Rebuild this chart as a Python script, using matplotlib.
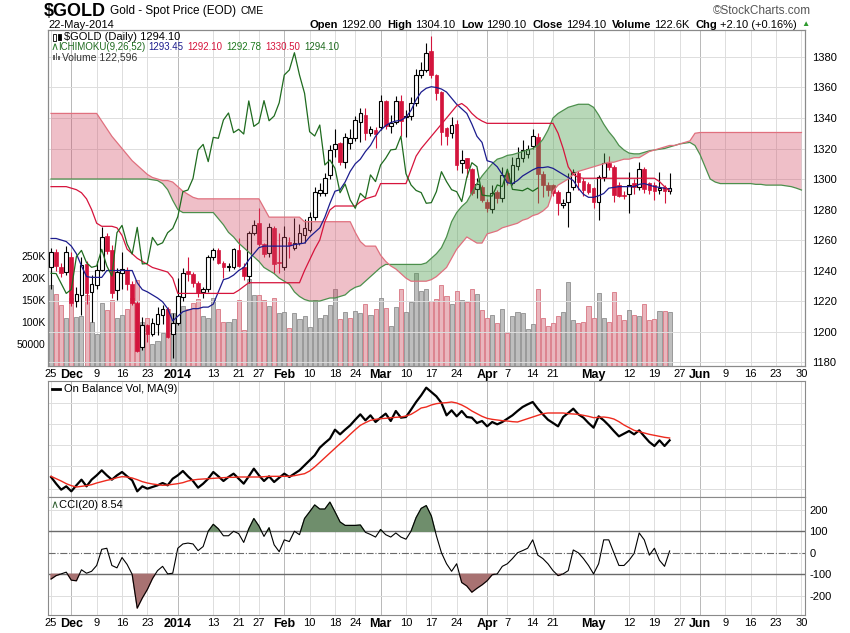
import matplotlib
matplotlib.use('Agg')
import matplotlib.pyplot as plt
from matplotlib import font_manager
from matplotlib.lines import Line2D
from matplotlib.patches import Rectangle
import numpy as np
import pandas as pd

plt.rcParams['font.family'] = ['Liberation Sans', 'DejaVu Sans']
plt.rcParams['font.size'] = 8
plt.rcParams['axes.unicode_minus'] = False

try:
    font_manager.findfont('Liberation Sans Narrow', fallback_to_default=False)
    NARROW = ['Liberation Sans Narrow', 'Liberation Sans', 'DejaVu Sans']
except ValueError:
    NARROW = ['Liberation Sans', 'DejaVu Sans']

W, H = 850, 633

# ---- dates -----------------------------------------------------------
holidays = ['2013-11-28', '2013-12-25', '2014-01-01', '2014-01-20',
            '2014-02-17', '2014-04-18', '2014-05-26']
sessions = pd.bdate_range('2013-11-25', '2014-06-30')
sessions = sessions[~sessions.isin(pd.to_datetime(holidays))]

tick_dates = ['2013-11-25', '2013-12-02', '2013-12-09', '2013-12-16', '2013-12-23',
              '2014-01-02', '2014-01-13', '2014-01-21', '2014-01-27', '2014-02-03',
              '2014-02-10', '2014-02-18', '2014-02-24', '2014-03-03', '2014-03-10',
              '2014-03-17', '2014-03-24', '2014-04-01', '2014-04-07', '2014-04-14',
              '2014-04-21', '2014-05-01', '2014-05-12', '2014-05-19', '2014-05-27',
              '2014-06-02', '2014-06-09', '2014-06-16', '2014-06-23', '2014-06-30']
tick_labels = ['25', 'Dec', '9', '16', '23', '2014', '13', '21', '27', 'Feb',
               '10', '18', '24', 'Mar', '10', '17', '24', 'Apr', '7', '14',
               '21', 'May', '12', '19', '27', 'Jun', '9', '16', '23', '30']
month_labels = ['Dec', '2014', 'Feb', 'Mar', 'Apr', 'May', 'Jun']

# ---- daily prices (25-Nov-2013 .. 22-May-2014) ----------------------
open_ = [1242, 1252, 1242, 1239, 1249, 1220, 1224, 1244, 1226, 1230.5,
         1240.3, 1262.5, 1253.4, 1227.2, 1238.6, 1240.3, 1231.1, 1219, 1190, 1204.1,
         1198.4, 1204.9, 1210.8, 1214.6, 1198.4, 1205.4, 1222.8, 1240, 1237.4, 1231.5,
         1225.6, 1227.6, 1249, 1253.4, 1245.1, 1242, 1242.5, 1253.4, 1242.1, 1236.4,
         1264.8, 1270.9, 1257.4, 1251.3, 1267.6, 1245.4, 1242.5, 1258.9, 1254.5, 1257.8,
         1263, 1266.6, 1274.9, 1291, 1291, 1302.6, 1319.5, 1323.4, 1311.4, 1323.4,
         1326.7, 1337.6, 1342, 1330.2, 1332.1, 1334.3, 1351.4, 1334.7, 1337.6, 1351.4,
         1340.4, 1341.3, 1350, 1368.2, 1371.5, 1384.1, 1368.2, 1357.3, 1333.2, 1329.9,
         1336, 1310.3, 1313.5, 1306.3, 1293.4, 1295, 1285.2, 1280.1, 1291.7, 1287.4,
         1304.2, 1297.6, 1308.6, 1313.6, 1316.4, 1321.7, 1327.6, 1303.5, 1296.1, 1296.1,
         1291.7, 1283, 1285.1, 1295, 1303.7, 1299, 1296.5, 1293.9, 1285.2, 1301.5,
         1310.7, 1308.1, 1296.1, 1289.5, 1290.2, 1297.2, 1295, 1306.4, 1297.2, 1296,
         1293, 1295, 1292]
high = [1255, 1254, 1245, 1256, 1252, 1229, 1249, 1246, 1237, 1246,
        1268.3, 1264.7, 1256.6, 1241.4, 1252, 1242.4, 1233, 1220, 1209.5, 1204.7,
        1208.9, 1216.3, 1217.6, 1216.3, 1212, 1234.9, 1241.4, 1248.6, 1239, 1233,
        1229.4, 1250, 1254.5, 1254.5, 1246, 1245, 1254.5, 1261, 1244.7, 1266,
        1273, 1280.8, 1258, 1270.9, 1269.2, 1264.4, 1269.2, 1262.2, 1274.2, 1270.5,
        1273.5, 1278.6, 1295, 1297.2, 1303.7, 1322.3, 1332.6, 1324, 1330, 1332.6,
        1341.3, 1346.3, 1346.3, 1334.5, 1334.3, 1355, 1352, 1342, 1354.4, 1355,
        1345.2, 1354, 1371.9, 1376.9, 1389, 1393.8, 1369, 1358, 1334, 1340.4,
        1338.7, 1319, 1314, 1307, 1300.4, 1296.1, 1287, 1296, 1293, 1308,
        1306, 1314.6, 1321, 1325.8, 1322, 1332.6, 1330, 1305, 1298, 1297,
        1292.5, 1286.7, 1303.7, 1306.4, 1305, 1300.5, 1298, 1295, 1302.5, 1316.8,
        1315, 1309, 1298, 1292, 1304.8, 1300, 1311.4, 1308.1, 1298, 1298,
        1304.8, 1296, 1304.1]
low = [1228, 1240, 1236, 1237, 1217, 1216, 1211, 1218, 1206, 1228,
       1239.5, 1251, 1222, 1220.6, 1228, 1227.5, 1217.7, 1186.8, 1187.8, 1193,
       1197, 1198, 1205, 1195.6, 1182.4, 1204, 1220, 1233, 1229, 1222.8,
       1222, 1226, 1247, 1244, 1234.9, 1240, 1241, 1242, 1234, 1232,
       1263, 1256, 1248.6, 1249, 1238.1, 1238.1, 1240.3, 1248, 1253.4, 1257,
       1257.8, 1265, 1273, 1289, 1289, 1300, 1314.6, 1309.2, 1307, 1319.5,
       1325, 1324.5, 1325.6, 1328, 1320.1, 1332, 1332.6, 1330, 1336, 1328,
       1327.8, 1339, 1348, 1366, 1370, 1366, 1351.8, 1322.3, 1322.3, 1327,
       1306, 1304, 1301.4, 1289.5, 1287.4, 1285, 1278.6, 1278, 1284, 1285,
       1296, 1296, 1306, 1311, 1314, 1320, 1284.1, 1288.4, 1289, 1289,
       1276.4, 1281, 1268.8, 1293, 1293, 1289, 1290, 1280.8, 1273.1, 1299,
       1306, 1285.2, 1288, 1287, 1277.9, 1290, 1293, 1290.6, 1290, 1286.3,
       1290, 1284.1, 1290.1]
close = [1252, 1243, 1238.5, 1252, 1219, 1224.6, 1243.5, 1225, 1231, 1240.3,
         1261.8, 1252.7, 1225, 1239.2, 1240.8, 1231.1, 1218.5, 1187.4, 1204.1, 1198.4,
         1205.8, 1211.3, 1214.6, 1196.6, 1205.8, 1223.3, 1238.2, 1238, 1231.5, 1225,
         1227.6, 1249.1, 1253.2, 1245.1, 1242.1, 1243, 1253.9, 1243, 1236.4, 1264.8,
         1269.6, 1257.4, 1250.8, 1268.3, 1244.3, 1244.7, 1261.7, 1256.7, 1258.2, 1264.8,
         1267.6, 1275.3, 1291.7, 1292.8, 1300.4, 1319, 1322.7, 1311.4, 1327.3, 1326.7,
         1338.7, 1343.3, 1330.4, 1332.6, 1329.5, 1351.2, 1334.5, 1336.9, 1351.4, 1338.2,
         1341.3, 1350, 1368.2, 1371.5, 1382.8, 1368.2, 1356.2, 1331, 1328.2, 1335.4,
         1309.2, 1312.5, 1307, 1291, 1296.7, 1286.3, 1280.8, 1290.6, 1287.4, 1302.7,
         1298.3, 1309.2, 1313.6, 1319.1, 1319.5, 1328, 1303.5, 1296.1, 1292.5, 1291.1,
         1284.1, 1284.5, 1291.7, 1304.8, 1298.3, 1293, 1291.7, 1285.2, 1301.1, 1310.7,
         1308.1, 1289.5, 1289, 1288.8, 1296.1, 1295, 1306.4, 1293.2, 1292.8, 1292.3,
         1294, 1292, 1294.1]
volume_k = [184, 163, 139, 108, 155, 111, 113, 161, 100, 72,
            143, 128, 149, 110, 117, 129, 154, 195, 100, 110,
            50, 57, 75, 129, 120, 154, 136, 130, 143, 152,
            113, 110, 154, 129, 100, 100, 107, 150, 82, 198,
            161, 161, 150, 136, 154, 120, 122, 86, 120, 107,
            113, 88, 149, 108, 117, 138, 175, 107, 122, 108,
            124, 120, 142, 115, 129, 154, 131, 92, 133, 174,
            122, 145, 212, 170, 176, 147, 153, 185, 160, 142,
            170, 150, 145, 176, 163, 127, 108, 117, 97, 129,
            74, 113, 122, 120, 83, 95, 176, 110, 92, 97,
            113, 122, 191, 104, 97, 100, 136, 110, 165, 110,
            101, 168, 115, 104, 127, 117, 113, 142, 104, 106,
            124, 124, 122.596]

# ---- Ichimoku lines ---------------------------------------------------
tenkan = [1261, 1261, 1260, 1259, 1256, 1251, 1243, 1236, 1235.5, 1235.5,
          1235.5, 1240, 1240, 1240, 1240, 1240, 1240, 1232, 1227.5, 1226,
          1224, 1222, 1219.5, 1215, 1207, 1210, 1213, 1214, 1215, 1215,
          1216, 1216, 1218, 1226, 1234, 1235, 1237, 1240, 1242, 1247,
          1251, 1255, 1256, 1256, 1256, 1256, 1256, 1256, 1257, 1257.5,
          1258, 1262, 1265, 1268, 1275, 1284, 1292, 1293, 1298, 1305,
          1310, 1313, 1318, 1322, 1328, 1332, 1335, 1337, 1338, 1338.5,
          1340.5, 1345, 1352, 1357, 1359.5, 1360.5, 1360, 1359, 1357, 1353,
          1349, 1346, 1343, 1336, 1328, 1324, 1312, 1311, 1308, 1303,
          1297.5, 1297, 1299, 1302, 1304, 1306, 1307.5, 1307.5, 1308, 1307,
          1305, 1303, 1301, 1299, 1294, 1290, 1288, 1288, 1289, 1290.5,
          1294, 1294.5, 1295, 1295, 1295, 1295, 1296.5, 1297, 1296, 1295,
          1294.5, 1294, 1293.45]
kijun = [1295, 1295, 1295, 1295, 1294, 1293, 1291, 1287, 1280, 1271,
         1269, 1269, 1269, 1268, 1263, 1254, 1251, 1248, 1246, 1244,
         1242, 1241, 1240, 1239, 1235, 1225, 1225, 1225, 1225, 1225,
         1225, 1225, 1225, 1225, 1225, 1225, 1225, 1227, 1229.5, 1232,
         1232, 1232, 1232, 1232, 1232, 1232, 1232, 1232, 1232, 1232,
         1240, 1247, 1254, 1260, 1272, 1279.7, 1282.3, 1282.3, 1282.3, 1282.3,
         1282.3, 1285, 1287, 1288, 1289, 1297, 1297, 1297, 1297, 1297,
         1297, 1306, 1315, 1320, 1324, 1328, 1332, 1336, 1340, 1344,
         1348, 1349.5, 1347, 1343, 1340, 1338, 1336.5, 1336.5, 1336.5, 1336.5,
         1336.5, 1336.5, 1336.5, 1336.5, 1336.5, 1336.5, 1336.5, 1336.5, 1336.5, 1336.5,
         1330, 1320, 1308, 1303, 1301, 1300.5, 1300.5, 1300.5, 1300.5, 1300.5,
         1300.5, 1300.5, 1300.5, 1300.5, 1300.5, 1300.5, 1300.5, 1300.5, 1300.5, 1300.5,
         1298.3, 1295, 1292.1]
# cloud runs 26 sessions past the last bar
senkou_a = [1300, 1300, 1300, 1300, 1300, 1300, 1300, 1300, 1300, 1300,
            1300, 1300, 1300, 1300, 1300, 1300, 1300, 1300, 1300, 1300,
            1299.5, 1299, 1297, 1293, 1286, 1280, 1278, 1278, 1278, 1278,
            1278, 1278, 1278, 1274, 1270, 1265, 1262, 1258, 1255, 1252,
            1249, 1246, 1242, 1240, 1238, 1235, 1233, 1231, 1226, 1223,
            1221, 1220, 1220, 1220, 1221, 1222, 1222, 1223, 1224, 1227,
            1229, 1230, 1233, 1236, 1239, 1242, 1244, 1244, 1244, 1244,
            1244, 1244, 1244, 1244, 1245, 1248, 1251, 1255, 1262, 1272,
            1278, 1282, 1285, 1291, 1297, 1302, 1306, 1310, 1313, 1314,
            1315.5, 1316, 1317, 1318, 1319, 1320, 1322, 1326, 1332, 1340,
            1343, 1345, 1347, 1348, 1349, 1349, 1349, 1347, 1342, 1336,
            1331, 1327, 1322, 1319, 1317, 1316.5, 1316.5, 1317.5, 1318.5, 1319,
            1319.5, 1320, 1321, 1322, 1323, 1323.5, 1324, 1322, 1316, 1308,
            1300, 1298, 1297, 1297, 1297, 1297, 1297, 1297, 1297, 1296.5,
            1296.5, 1296, 1296, 1296, 1296, 1295.5, 1295, 1294, 1292.78]
senkou_b = [1343, 1343, 1343, 1343, 1343, 1343, 1343, 1343, 1343, 1343,
            1338, 1333, 1328, 1324, 1320, 1316, 1312, 1309, 1306, 1303,
            1301, 1300, 1299, 1299, 1298, 1295, 1292, 1290, 1288, 1287,
            1287, 1287, 1287, 1287, 1287, 1287, 1287, 1287, 1287, 1287,
            1287, 1287, 1281, 1275, 1275, 1275, 1275, 1275, 1275, 1275,
            1272, 1272, 1272, 1272, 1272, 1272, 1272, 1272, 1272, 1272,
            1265, 1259, 1256, 1256, 1256, 1250, 1246, 1243, 1241, 1238,
            1235, 1233, 1233, 1233, 1233, 1234, 1236, 1239, 1242, 1248,
            1254, 1258, 1262, 1260, 1258, 1258, 1264, 1265, 1266, 1268,
            1269, 1270, 1271, 1273, 1274, 1276, 1277, 1279, 1282, 1292,
            1296, 1298, 1300, 1303, 1305, 1306, 1307, 1308, 1309, 1310,
            1311, 1311, 1312, 1313, 1313, 1314, 1314, 1316, 1318, 1319,
            1320, 1321, 1322, 1322, 1323, 1324, 1325, 1330, 1330.5, 1330.5,
            1330.5, 1330.5, 1330.5, 1330.5, 1330.5, 1330.5, 1330.5, 1330.5, 1330.5, 1330.5,
            1330.5, 1330.5, 1330.5, 1330.5, 1330.5, 1330.5, 1330.5, 1330.5, 1330.5]

# ---- On Balance Volume (relative units) and its 9-day average -------
obv = [700, 500, 320, 420, 270, 450, 620, 420, 620, 750,
       900, 750, 620, 750, 850, 720, 600, 270, 420, 350,
       400, 450, 520, 450, 650, 750, 880, 720, 580, 380,
       500, 650, 850, 720, 580, 700, 800, 650, 500, 720,
       950, 750, 580, 720, 550, 680, 800, 700, 800, 900,
       1050, 1200, 1350, 1580, 1720, 1850, 2120, 1980, 2120, 2250,
       2420, 2580, 2400, 2550, 2350, 2480, 2600, 2380, 2680, 2480,
       2500, 2720, 2950, 3150, 3380, 3250, 3120, 2920, 2550, 2700,
       2520, 2680, 2500, 2480, 2320, 2380, 2220, 2350, 2280, 2350,
       2450, 2550, 2680, 2800, 2880, 2950, 2750, 2580, 2420, 2320,
       2220, 2500, 2620, 2750, 2580, 2480, 2320, 2180, 2520, 2400,
       2250, 2080, 1920, 2000, 2080, 1980, 2100, 1920, 1750, 1630,
       1800, 1630, 1800]
obv_ma = [720, 650, 580, 500, 440, 400, 420, 440, 470, 520,
          560, 600, 630, 680, 710, 700, 670, 620, 560, 520,
          490, 470, 450, 460, 480, 500, 530, 580, 610, 630,
          640, 650, 660, 670, 680, 690, 690, 700, 700, 700,
          700, 700, 710, 720, 720, 720, 720, 720, 740, 770,
          800, 880, 1000, 1140, 1280, 1420, 1560, 1700, 1830, 1980,
          2120, 2250, 2330, 2400, 2430, 2450, 2460, 2480, 2490, 2500,
          2530, 2580, 2670, 2770, 2800, 2860, 2900, 2920, 2930, 2950,
          2920, 2860, 2780, 2680, 2600, 2520, 2460, 2430, 2410, 2390,
          2380, 2360, 2350, 2400, 2450, 2500, 2550, 2600, 2620, 2620,
          2620, 2620, 2600, 2590, 2580, 2550, 2520, 2480, 2490, 2500,
          2480, 2440, 2360, 2260, 2180, 2100, 2060, 2020, 1980, 1950,
          1920, 1890, 1870]

# ---- CCI(20) ---------------------------------------------------------
cci = [-122, -106, -98, -90, -127, -130, -79, -95, -86, -59,
       16, 21, -59, -70, -22, -54, -100, -257, -210, -170,
       -120, -83, -63, -98, -95, 21, 41, 45, 41, 10,
       29, 100, 132, 111, 79, 79, 100, 89, 48, 111,
       159, 124, 76, 116, 37, 5, 60, 52, 100, 84,
       159, 190, 222, 203, 203, 235, 190, 143, 127, 127,
       127, 129, 95, 85, 73, 108, 84, 73, 92, 73,
       63, 100, 163, 206, 219, 171, 79, 0, -51, -86,
       -51, -138, -154, -183, -165, -149, -130, -102, -98, -63,
       -51, -27, 0, 10, 21, 60, -11, -27, -51, -83,
       -106, -98, -83, 13, 0, -27, -59, -98, -51, 60,
       60, 0, -59, -59, -35, -3, 92, 60, -11, 21,
       -35, -63, 8.54]

# ---- figure ------------------------------------------------------------
o = np.array(open_)
h = np.array(high)
l = np.array(low)
c = np.array(close)
vol = np.array(volume_k) * 1000
x = np.arange(len(c))
xc = np.arange(len(senkou_a))
tick_pos = sessions.get_indexer(pd.to_datetime(tick_dates))

RED = '#d3143c'
GRID = '#dddddd'
MGRID = '#b8b8b8'
SPINE = '#8a8a8a'
XLIM = (-0.6, 148.7)


def rect(top, bottom):
    return [48 / W, 1 - bottom / H, 757 / W, (bottom - top) / H]


def ftext(px, py, s, **kw):
    return fig.text(px / W, 1 - py / H, s, va='center', **kw)


def text_row(px, py, pieces, align='left'):
    # pieces: (text, gap after, text kwargs); laid out one after another
    rend = fig.canvas.get_renderer()
    arts, widths = [], []
    for s, gap, kw in pieces:
        t = ftext(0, py, s, **kw)
        arts.append((t, gap))
        widths.append(t.get_window_extent(rend).width)
    total = sum(widths) + sum(g for _, g in arts[:-1])
    cur = px - total if align == 'right' else px
    for (t, gap), wd in zip(arts, widths):
        t.set_x(cur / W)
        cur += wd + gap
    return cur


fig = plt.figure(figsize=(W / 100, H / 100), dpi=100)

ax_vol = fig.add_axes(rect(30, 366))
ax_obv = fig.add_axes(rect(381, 497))
ax_cci = fig.add_axes(rect(497, 615))

for ax in (ax_vol, ax_obv, ax_cci):
    ax.set_xlim(*XLIM)
    for sp in ax.spines.values():
        sp.set_color(SPINE)
        sp.set_linewidth(0.8)
    for p, lab in zip(tick_pos, tick_labels):
        ax.axvline(p, color=MGRID if lab in month_labels else GRID, lw=0.7, zorder=0)
    ax.set_xticks(tick_pos)
    ax.tick_params(axis='x', length=0, pad=2, labelsize=8)


def style_dates(axis):
    axis.set_xticklabels(tick_labels)
    for t in axis.get_xticklabels():
        if t.get_text() in month_labels:
            t.set_fontweight('bold')
            t.set_family(NARROW)
            t.set_fontsize(9)


# volume (left scale) behind the price
up_day = np.r_[True, c[1:] >= c[:-1]]
ax_vol.bar(x[up_day], vol[up_day], width=0.8, color='#bebebe', edgecolor='#8e8e8e', lw=0.6, zorder=1)
ax_vol.bar(x[~up_day], vol[~up_day], width=0.8, color='#e9b6bd', edgecolor='#d87582', lw=0.6, zorder=1)
ax_vol.set_ylim(0, 336 / 22 * 50000)
ax_vol.set_yticks([50000, 100000, 150000, 200000, 250000])
ax_vol.set_yticklabels(['50000', '100K', '150K', '200K', '250K'])
ax_vol.tick_params(axis='y', length=0, pad=2, labelsize=7.5)
style_dates(ax_vol)

# price panel
ax = ax_vol.twinx()
ax.set_xlim(*XLIM)
ax.set_ylim(1177.4, 1397.7)
ax.set_yticks(np.arange(1180, 1381, 20))
ax.tick_params(axis='y', length=0, pad=5, labelsize=8)
for lvl in np.arange(1180, 1381, 20):
    ax.axhline(lvl, color=GRID, lw=0.7, zorder=0)
for sp in ax.spines.values():
    sp.set_color(SPINE)
    sp.set_linewidth(0.8)

rise = c >= o
body = np.maximum(np.abs(c - o), 0.5)
ax.vlines(x[rise], l[rise], h[rise], color='black', lw=0.8, zorder=2)
ax.vlines(x[~rise], l[~rise], h[~rise], color=RED, lw=0.8, zorder=2)
ax.bar(x[rise], body[rise], bottom=o[rise], width=0.72, facecolor='white',
       edgecolor='black', lw=0.8, zorder=3)
ax.bar(x[~rise], body[~rise], bottom=c[~rise], width=0.72, facecolor=RED,
       edgecolor=RED, lw=0.5, zorder=3)

sa = np.array(senkou_a)
sb = np.array(senkou_b)
ax.fill_between(xc, sa, sb, where=sa >= sb, interpolate=True, color='#4f9f4f',
                alpha=0.4, lw=0, zorder=4)
ax.fill_between(xc, sa, sb, where=sa < sb, interpolate=True, color='#d24a64',
                alpha=0.35, lw=0, zorder=4)
ax.plot(xc, sa, color='#4c8f4c', lw=0.9, zorder=5)
ax.plot(xc, sb, color='#e0707e', lw=0.9, zorder=5)
ax.plot(x, tenkan, color='#1c1c8e', lw=0.9, zorder=6)
ax.plot(x, kijun, color='#d6143c', lw=0.9, zorder=6)
ax.plot(x[:-26], c[26:], color='#1f6b1f', lw=0.9, zorder=6)

# OBV panel
ax_obv.plot(x, obv, color='black', lw=1.6, zorder=3)
ax_obv.plot(x, obv_ma, color='#ee2a1e', lw=1.0, zorder=4)
ax_obv.set_ylim(100, 3580)
for lvl in [350, 1020, 1670, 2300, 2920]:
    ax_obv.axhline(lvl, color=GRID, lw=0.7, zorder=0)
ax_obv.set_yticks([])
ax_obv.set_xticklabels([])

# CCI panel
cc = np.array(cci)
ax_cci.plot(x, cc, color='black', lw=0.8, zorder=4)
ax_cci.fill_between(x, cc, 100, where=cc > 100, interpolate=True, color='#6f8e6c', zorder=3)
ax_cci.fill_between(x, cc, -100, where=cc < -100, interpolate=True, color='#a87272', zorder=3)
ax_cci.axhline(100, color='#6a6a6a', lw=1.0, zorder=2)
ax_cci.axhline(-100, color='#6a6a6a', lw=1.0, zorder=2)
ax_cci.axhline(0, color='#6a6a6a', lw=0.8, ls='-.', zorder=2)
for lvl in [200, -200]:
    ax_cci.axhline(lvl, color=GRID, lw=0.7, zorder=0)
ax_cci.set_ylim(-289, 259)
ax_cci.yaxis.tick_right()
ax_cci.set_yticks([200, 100, 0, -100, -200])
ax_cci.tick_params(axis='y', length=0, pad=3, labelsize=8)
style_dates(ax_cci)

# ---- header ----------------------------------------------------------
text_row(44, 11, [('$GOLD', 4, dict(fontsize=13, fontweight='bold', family=NARROW)),
                  ('Gold - Spot Price (EOD)', 4, dict(fontsize=8.5)),
                  ('CME', 0, dict(fontsize=7.5))])
ftext(48, 25, '22-May-2014', fontsize=8)
ftext(811, 11, '\u00a9StockCharts.com', fontsize=8.5, color='#555555', ha='right')
B = dict(fontsize=8, fontweight='bold')
N = dict(fontsize=8)
text_row(797, 25, [('Open', 3, B), ('1292.00', 6, N), ('High', 3, B), ('1304.10', 6, N),
                   ('Low', 3, B), ('1290.10', 6, N), ('Close', 3, B), ('1294.10', 6, N),
                   ('Volume', 3, B), ('122.6K', 6, N), ('Chg', 3, B),
                   ('+2.10 (+0.16%)', 0, N)], align='right')
ftext(801, 25, '\u25b2', fontsize=6, color='#2e9a2e')

# legends inside panels
ftext(64, 37, '$GOLD (Daily) 1294.10', fontsize=8)
fig.add_artist(Rectangle((53 / W, 1 - 41 / H), 3 / W, 7 / H, facecolor='white',
                         edgecolor='black', lw=0.6))
fig.add_artist(Rectangle((58 / W, 1 - 40 / H), 3 / W, 6 / H, facecolor='black',
                         edgecolor='black', lw=0.6))
ftext(51, 47, '\u2227', fontsize=8, color='#2e7d2e')
S = 7
text_row(58, 47, [('ICHIMOKU(9,26,52)', 3, dict(fontsize=S, color='#1f6b1f')),
                  ('1293.45', 4, dict(fontsize=S, color='#1c1c8e')),
                  ('1292.10', 4, dict(fontsize=S, color='#d6143c')),
                  ('1292.78', 4, dict(fontsize=S, color='#1f7a1f')),
                  ('1330.50', 4, dict(fontsize=S, color='#d6143c')),
                  ('1294.10', 0, dict(fontsize=S, color='#1f6b1f'))])
for k, hh in enumerate([5, 7, 4]):
    fig.add_artist(Rectangle(((53 + 2.5 * k) / W, 1 - 60 / H), 1.8 / W, hh / H,
                             facecolor='#666666', lw=0))
ftext(62, 57, 'Volume 122,596', fontsize=7.5, color='#333333')

fig.add_artist(Line2D([52 / W, 60 / W], [1 - 389 / H, 1 - 389 / H], color='black', lw=2))
ftext(64, 389, 'On Balance Vol, MA(9)', fontsize=8)
ftext(51, 505, '\u2227', fontsize=8, color='#2e5d2e')
ftext(59, 505, 'CCI(20) 8.54', fontsize=8)

fig.savefig('out.png', dpi=100)
